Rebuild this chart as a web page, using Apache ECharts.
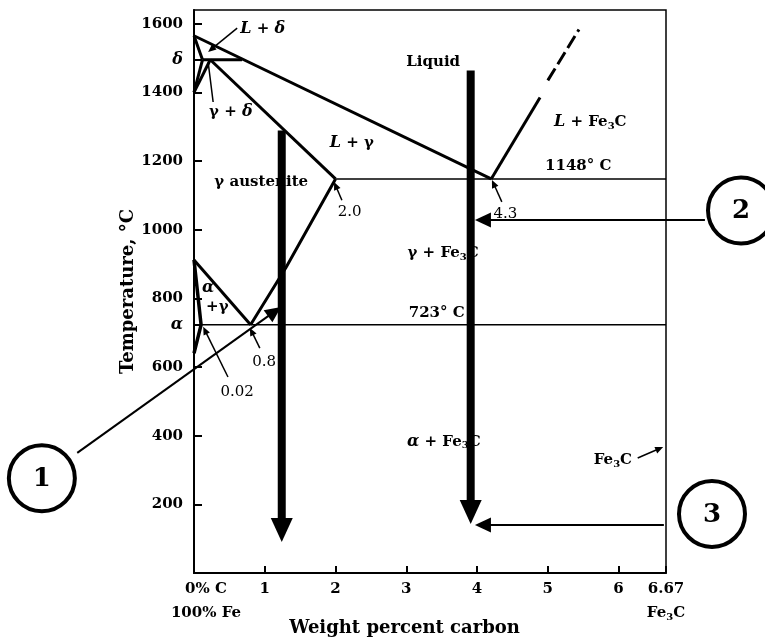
<!DOCTYPE html>
<html><head><meta charset="utf-8">
<script src="https://cdn.jsdelivr.net/npm/echarts@6/dist/echarts.min.js"></script>
<style>html,body{margin:0;padding:0;background:#fff}#c{width:765px;height:637px}</style>
</head><body><div id="c"></div>
<script>
// ---- axis ticks ----
const xTickValues = [0, 1, 2, 3, 4, 5, 6, 6.67];
const yTickValues = [200, 400, 600, 800, 1000, 1200, 1400, 1600];
const yMarkValues = [723, 1495];           // alpha, delta marks on the axis

// ---- phase boundaries [wt% C, °C] ----
const liquidus = [[0, 1565], [4.2, 1148]];
const deltaSolidus = [[0, 1565], [0.12, 1495]];
const deltaSolvus = [[0.12, 1495], [0, 1400]];
const gammaDelta = [[0.23, 1495], [0, 1400]];
const peritectic = [[0.12, 1495], [0.68, 1495]];
const gammaSolidus = [[0.23, 1495], [2.0, 1148]];
const eutecticLine = [[2.0, 1148], [6.67, 1148]];
const cementiteLiquidus = [[4.2, 1148], [4.89, 1385]];
const cementiteLiquidusDashed = [[5.0, 1435], [5.44, 1583]];
const a3Line = [[0, 912], [0.8, 723]];
const acmLine = [[0.8, 723], [1.3, 890], [2.0, 1148]];
const alphaBoundary = [[0, 912], [0.1, 723], [0, 640]];
const eutectoidLine = [[0, 723], [6.67, 723]];

// ---- cooling paths and annotation arrows [x1, T1, x2, T2] ----
const coolingPaths = [[1.24, 1289, 1.24, 90], [3.91, 1464, 3.91, 143]];
const calloutArrows = [[7.22, 1028, 3.97, 1028], [6.64, 140, 3.97, 140], [-1.65, 350, 1.23, 775]];
const pointerArrows = [[0.61, 1587, 0.2, 1518], [2.09, 1086, 1.98, 1139], [4.35, 1081, 4.21, 1145],
                       [0.48, 571, 0.13, 717], [0.93, 655, 0.79, 714], [6.27, 335, 6.63, 367]];
const pointerLines = [[0.27, 1372, 0.2, 1488]];
const callouts = [[-2.15, 276, '1'], [7.73, 1056, '2'], [7.32, 172, '3']];

// ---- text annotations [x, T, text] ----
const regionLabels = [
  [0.97, 1585, '{i|L} + {i|δ}'],
  [0.52, 1343, 'γ + {i|δ}'],
  [0.95, 1139, 'γ austenite'],
  [2.23, 1253, '{i|L} + γ'],
  [3.38, 1489, 'Liquid'],
  [5.6, 1314, '{i|L} + Fe{s|3}C'],
  [5.43, 1186, '1148° C'],
  [3.52, 932, 'γ + Fe{s|3}C'],
  [3.43, 757, '723° C'],
  [0.2, 830, '{i|α}'],
  [0.33, 775, '+γ'],
  [3.53, 382, '{i|α} + Fe{s|3}C'],
  [5.92, 329, 'Fe{s|3}C']
];
const numberLabels = [
  [2.2, 1052, '2.0'],
  [4.4, 1046, '4.3'],
  [0.99, 615, '0.8'],
  [0.61, 527, '0.02']
];

const FONT = "'DejaVu Serif', serif";
const richSet = {
  i: { fontStyle: 'italic', fontWeight: 'bold', fontFamily: FONT, fontSize: 16, fill: '#000', color: '#000' },
  s: { fontSize: 10, fontWeight: 'bold', fontFamily: FONT, padding: [8, 0, 0, 0], fill: '#000', color: '#000' }
};

function lineSeries(data, width, dash) {
  return {
    type: 'line', data: data, symbol: 'none', silent: true, z: 3,
    lineStyle: { color: '#000', width: width, type: dash || 'solid', cap: 'butt' }
  };
}

function arrowSeries(data, opt) {
  return {
    type: 'custom', coordinateSystem: 'cartesian2d', data: data, z: opt.z, silent: true, clip: false,
    encode: { x: [0, 2], y: [1, 3] },
    renderItem: function (params, api) {
      const a = api.coord([api.value(0), api.value(1)]);
      const b = api.coord([api.value(2), api.value(3)]);
      const dx = b[0] - a[0], dy = b[1] - a[1];
      const L = Math.hypot(dx, dy), ux = dx / L, uy = dy / L;
      const hl = opt.headLen, hw = opt.headWidth / 2;
      const base = [b[0] - ux * hl, b[1] - uy * hl];
      const end = hl > 0 ? [base[0] + ux * 1, base[1] + uy * 1] : b;
      const children = [{
        type: 'line', shape: { x1: a[0], y1: a[1], x2: end[0], y2: end[1] },
        style: { stroke: '#000', lineWidth: opt.width, lineCap: 'butt' }
      }];
      if (hl > 0) {
        children.push({
          type: 'polygon',
          shape: { points: [b, [base[0] - uy * hw, base[1] + ux * hw], [base[0] + uy * hw, base[1] - ux * hw]] },
          style: { fill: '#000' }
        });
      }
      return { type: 'group', children: children };
    }
  };
}

function textSeries(data, fontSize, fontWeight) {
  return {
    type: 'custom', coordinateSystem: 'cartesian2d', data: data, z: 4, silent: true, clip: false,
    encode: { x: 0, y: 1 },
    renderItem: function (params, api) {
      const p = api.coord([api.value(0), api.value(1)]);
      return {
        type: 'text', x: p[0], y: p[1],
        style: {
          text: data[params.dataIndex][2], fill: '#000',
          fontFamily: FONT, fontSize: fontSize, fontWeight: fontWeight,
          align: 'center', verticalAlign: 'middle', rich: richSet
        }
      };
    }
  };
}

const calloutSeries = {
  type: 'custom', coordinateSystem: 'cartesian2d', data: callouts, z: 8, silent: true, clip: false,
  encode: { x: 0, y: 1 },
  renderItem: function (params, api) {
    const p = api.coord([api.value(0), api.value(1)]);
    return {
      type: 'group', children: [
        { type: 'circle', shape: { cx: p[0], cy: p[1], r: 33 }, style: { fill: '#fff', stroke: '#000', lineWidth: 4 } },
        { type: 'text', x: p[0], y: p[1] + 1, style: { text: callouts[params.dataIndex][2], fill: '#000', fontFamily: FONT, fontSize: 26, fontWeight: 'bold', align: 'center', verticalAlign: 'middle' } }
      ]
    };
  }
};

const chart = echarts.init(document.getElementById('c'), null, { renderer: 'canvas' });
const axisFont = { color: '#000', fontFamily: FONT, fontWeight: 'bold', fontSize: 15 };

chart.setOption({
  animation: false,
  backgroundColor: '#fff',
  grid: { left: 194, right: 99, top: 10, bottom: 64, show: true, borderColor: '#000', borderWidth: 1.5,
          backgroundColor: 'transparent', containLabel: false, outerBoundsMode: 'none' },
  xAxis: {
    type: 'value', min: 0, max: 6.67,
    axisLine: { lineStyle: { color: '#000', width: 2 } },
    axisTick: { inside: true, length: 7, customValues: xTickValues, lineStyle: { color: '#000', width: 2 } },
    axisLabel: Object.assign({}, axisFont, {
      customValues: xTickValues, margin: 4, lineHeight: 24, showMaxLabel: true, showMinLabel: true,
      formatter: function (v) {
        if (v === 0) return '{f|0% C}\n{f|100% Fe}';
        if (Math.abs(v - 6.67) < 1e-6) return '6.67\nFe{s|3}C';
        return String(v);
      },
      rich: {
        f: { color: '#000', fontFamily: FONT, fontWeight: 'bold', fontSize: 15, lineHeight: 24, padding: [0, 0, 0, 24] },
        s: { color: '#000', fontFamily: FONT, fontWeight: 'bold', fontSize: 10, padding: [8, 0, 0, 0] }
      }
    }),
    splitLine: { show: false },
    name: 'Weight percent carbon', nameLocation: 'middle', nameGap: 46, nameMoveOverlap: false,
    nameTextStyle: Object.assign({}, axisFont, { fontSize: 18, padding: [0, 51, 0, 0] })
  },
  yAxis: {
    type: 'value', min: 0, max: 1640,
    axisLine: { lineStyle: { color: '#000', width: 2 } },
    axisTick: { inside: true, length: 8, customValues: yTickValues.concat(yMarkValues), lineStyle: { color: '#000', width: 2 } },
    axisLabel: Object.assign({}, axisFont, {
      customValues: yTickValues.concat(yMarkValues), margin: 11,
      formatter: function (v) {
        if (v === 723) return '{g|α}';
        if (v === 1495) return '{g|δ}';
        return String(v);
      },
      rich: { g: { color: '#000', fontFamily: FONT, fontWeight: 'bold', fontStyle: 'italic', fontSize: 16 } }
    }),
    splitLine: { show: false },
    name: 'Temperature, °C', nameLocation: 'middle', nameGap: 57, nameRotate: 90, nameMoveOverlap: false,
    nameTextStyle: Object.assign({}, axisFont, { fontSize: 18 })
  },
  series: [
    lineSeries(liquidus, 3),
    lineSeries(deltaSolidus, 3),
    lineSeries(deltaSolvus, 3),
    lineSeries(gammaDelta, 3),
    lineSeries(peritectic, 3),
    lineSeries(gammaSolidus, 3),
    lineSeries(eutecticLine, 1.5),
    lineSeries(cementiteLiquidus, 3),
    lineSeries(cementiteLiquidusDashed, 3, [14, 5]),
    lineSeries(a3Line, 3),
    lineSeries(acmLine, 3),
    lineSeries(alphaBoundary, 3.5),
    lineSeries(eutectoidLine, 1.5),
    textSeries(regionLabels, 15, 'bold'),
    textSeries(numberLabels, 15, 'normal'),
    arrowSeries(pointerLines, { width: 1.5, headLen: 0, headWidth: 0, z: 5 }),
    arrowSeries(pointerArrows, { width: 1.5, headLen: 8, headWidth: 7, z: 5 }),
    arrowSeries(calloutArrows, { width: 2, headLen: 16, headWidth: 15, z: 6 }),
    arrowSeries(coolingPaths, { width: 8, headLen: 24, headWidth: 22, z: 7 }),
    calloutSeries
  ]
});
</script>
</body></html>
